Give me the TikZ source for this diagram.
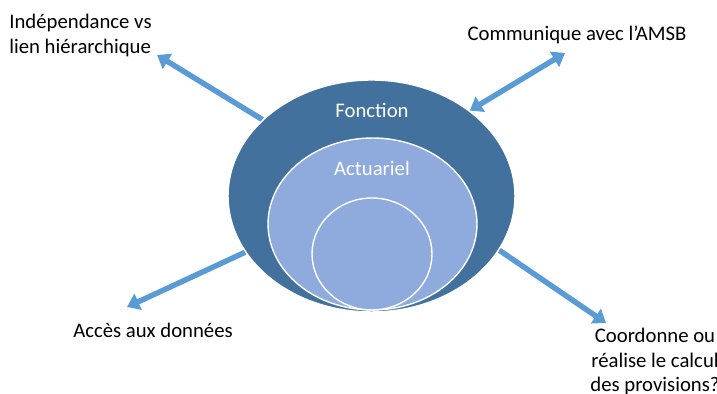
\documentclass[tikz,border=0pt]{standalone}
\usepackage{fontspec}
\setmainfont{Carlito}
\usetikzlibrary{shapes.geometric,arrows.meta,backgrounds}
\definecolor{darkblue}{HTML}{41719C}
\definecolor{paleblue}{HTML}{8FAADC}
\definecolor{arrowblue}{HTML}{5B9BD5}
\tikzset{
	ring/.style={ellipse,draw=white,line width=0.8pt,inner sep=0pt},
	lbl/.style={font=\fontsize{11.8}{14}\selectfont,inner sep=0pt},
	inlbl/.style={lbl,text=white},
	fat/.style={draw=arrowblue,line width=3.1pt,-{Triangle[width=9.8pt,length=7pt]}},
	fatboth/.style={fat,{Triangle[width=9.8pt,length=7pt]}-{Triangle[width=9.8pt,length=7pt]}}
}
\begin{document}
\begin{tikzpicture}[x=0.02cm,y=0.02cm]
	\useasboundingbox (0,0) rectangle (717,394);
	% target
	\node[ring,fill=darkblue,minimum width=5.74cm,minimum height=4.64cm] (outer) at (371.5,198) {};
	\node[ring,fill=paleblue,minimum width=4.18cm,minimum height=3.44cm] (middle) at (372.5,170) {};
	\node[ring,fill=paleblue,minimum width=2.4cm,minimum height=2.24cm] (inner) at (372,140) {};
	\node[inlbl] (fonction) at (372,284) {Fonction};
	\node[inlbl] (actuariel) at (372,226) {Actuariel};
	% labels
	\node[lbl,align=left,anchor=north west] (indep) at (9,380) {Indépendance vs\\lien hiérarchique};
	\node[lbl] (amsb) at (577,359) {Communique avec l’AMSB};
	\node[lbl] (acces) at (153,64) {Accès aux données};
	\node[lbl,align=center,anchor=north] (calc) at (655,66) {Coordonne ou\\réalise le calcul\\des provisions?};
	% arrows
	\coordinate (tipA) at (157,339);
	\coordinate (tipB) at (565,341);
	\coordinate (tipC) at (127,87);
	\coordinate (tipD) at (606,71);
	\begin{scope}[on background layer]
		\draw[fat] (outer.145) -- (tipA);
		\draw[fatboth] (outer.41) -- (tipB);
		\draw[fat] (outer.204) -- (tipC);
		\draw[fat] (outer.-23) -- (tipD);
	\end{scope}
\end{tikzpicture}
\end{document}
